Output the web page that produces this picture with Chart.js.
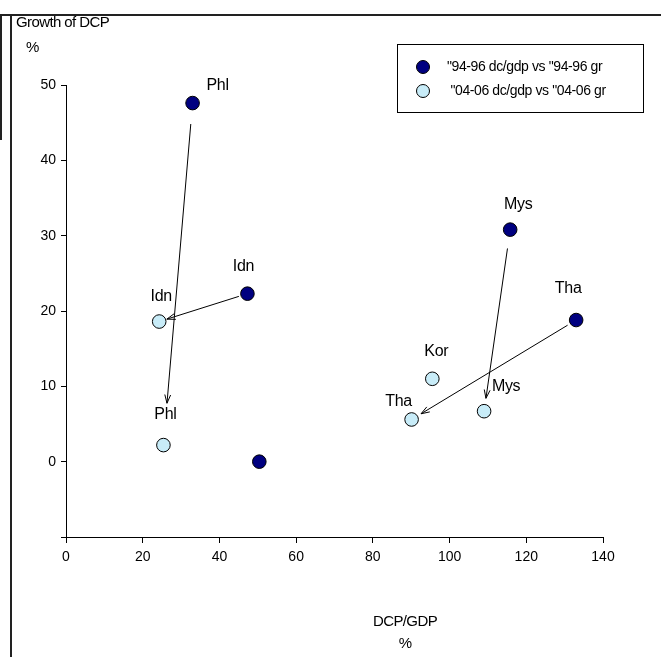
<!DOCTYPE html>
<html>
<head>
<meta charset="utf-8">
<script src="https://cdn.jsdelivr.net/npm/chart.js@4.4.1/dist/chart.umd.min.js"></script>
<style>
  html, body { margin: 0; padding: 0; background: #fff; }
  #wrap { position: relative; width: 661px; height: 657px; }
</style>
</head>
<body>
<div id="wrap"><canvas id="c" width="661" height="657"></canvas></div>
<script>
// Countries and their DCP/GDP ratio vs growth of DCP
const countries9496 = ['Phl', 'Idn', 'Mys', 'Tha', ''];
const dcpGdp9496 = [33.0, 47.3, 115.8, 133.0, 50.4];
const growth9496 = [47.6, 22.3, 30.8, 18.8, 0.0];

const countries0406 = ['Phl', 'Idn', 'Mys', 'Tha', 'Kor'];
const dcpGdp0406 = [25.4, 24.3, 109.0, 90.1, 95.5];
const growth0406 = [2.2, 18.6, 6.7, 5.6, 11.0];

const seriesNames = ['"94-96 dc/gdp vs "94-96 gr', ' "04-06 dc/gdp vs "04-06 gr'];
const xTicks = [0, 20, 40, 60, 80, 100, 120, 140];
const yTicks = [0, 10, 20, 30, 40, 50];

// Arrows showing each country's move from 94-96 to 04-06
const moves = ['Phl', 'Idn', 'Mys', 'Tha'];

const FONT = '"Liberation Sans", Arial, sans-serif';
const DARK = '#000080';
const LIGHT = '#C8ECF8';

// label placement (pixel offsets of label centre from the marker)
const labelOffsets = [
  { Phl: [25, -17], Idn: [-4, -27], Mys: [8, -25], Tha: [-8, -31] },
  { Phl: [2, -30], Idn: [2, -25], Mys: [22, -25], Tha: [-13, -18], Kor: [4, -27] }
];
// gaps (px) between arrow ends and the markers
const arrowGaps = { Phl: [21, 42], Idn: [9, 8], Mys: [19, 13], Tha: [10, 11] };

function pts(xs, ys) { return xs.map((x, i) => ({ x: x, y: ys[i] })); }

const decorations = {
  id: 'decorations',
  afterDatasetsDraw(chart) {
    const ctx = chart.ctx;
    const xs = chart.scales.x, ys = chart.scales.y;
    ctx.save();

    // point labels
    ctx.fillStyle = '#000';
    ctx.font = '16px ' + FONT;
    ctx.letterSpacing = '-0.3px';
    ctx.textAlign = 'center';
    ctx.textBaseline = 'middle';
    [[countries9496, dcpGdp9496, growth9496], [countries0406, dcpGdp0406, growth0406]].forEach((s, si) => {
      s[0].forEach((name, i) => {
        if (!name) return;
        const off = labelOffsets[si][name];
        const px = xs.getPixelForValue(s[1][i]);
        const py = ys.getPixelForValue(s[2][i]);
        ctx.fillText(name, px + off[0], py + off[1]);
      });
    });

    // arrows
    ctx.strokeStyle = '#000';
    ctx.lineWidth = 1;
    moves.forEach(name => {
      const a = countries9496.indexOf(name), b = countries0406.indexOf(name);
      const x1 = xs.getPixelForValue(dcpGdp9496[a]), y1 = ys.getPixelForValue(growth9496[a]);
      const x2 = xs.getPixelForValue(dcpGdp0406[b]), y2 = ys.getPixelForValue(growth0406[b]);
      const dx = x2 - x1, dy = y2 - y1, len = Math.hypot(dx, dy);
      const ux = dx / len, uy = dy / len;
      const g = arrowGaps[name];
      const sx = x1 + ux * g[0], sy = y1 + uy * g[0];
      const ex = x2 - ux * g[1], ey = y2 - uy * g[1];
      ctx.beginPath();
      ctx.moveTo(sx, sy);
      ctx.lineTo(ex, ey);
      const ang = Math.atan2(uy, ux), hl = 9, ha = 0.33;
      ctx.moveTo(ex - hl * Math.cos(ang - ha), ey - hl * Math.sin(ang - ha));
      ctx.lineTo(ex, ey);
      ctx.lineTo(ex - hl * Math.cos(ang + ha), ey - hl * Math.sin(ang + ha));
      ctx.stroke();
    });

    // axis titles
    ctx.font = '15px ' + FONT;
    ctx.letterSpacing = '-0.6px';
    ctx.textAlign = 'left';
    ctx.fillText('Growth of DCP', 16, 23);
    ctx.fillText('%', 26, 48);
    ctx.textAlign = 'center';
    ctx.fillText('DCP/GDP', 405, 622);
    ctx.fillText('%', 405, 644);

    // legend
    const lx = 397, ly = 44, lw = 246, lh = 68;
    ctx.lineWidth = 1;
    ctx.strokeRect(lx + 0.5, ly + 0.5, lw, lh);
    ctx.font = '14px ' + FONT;
    ctx.letterSpacing = '-0.4px';
    ctx.textAlign = 'left';
    [DARK, LIGHT].forEach((col, i) => {
      const cy = ly + 23 + i * 24;
      ctx.beginPath();
      ctx.ellipse(lx + 26, cy, 6.5, 6.5, 0, 0, Math.PI * 2);
      ctx.fillStyle = col;
      ctx.fill();
      ctx.strokeStyle = '#000';
      ctx.stroke();
      ctx.fillStyle = '#000';
      ctx.fillText(seriesNames[i], lx + 50, cy);
    });

    // page frame lines
    ctx.strokeStyle = '#222';
    ctx.lineWidth = 2;
    ctx.beginPath();
    ctx.moveTo(0, 15); ctx.lineTo(661, 15);
    ctx.moveTo(11, 15); ctx.lineTo(11, 657);
    ctx.moveTo(1, 15); ctx.lineTo(1, 140);
    ctx.stroke();
    ctx.restore();
  }
};

new Chart(document.getElementById('c'), {
  type: 'scatter',
  data: {
    datasets: [
      { label: seriesNames[0], data: pts(dcpGdp9496, growth9496), backgroundColor: DARK, borderColor: '#000', borderWidth: 1, pointRadius: 6.8, pointHoverRadius: 6.8 },
      { label: seriesNames[1], data: pts(dcpGdp0406, growth0406), backgroundColor: LIGHT, borderColor: '#000', borderWidth: 1, pointRadius: 6.8, pointHoverRadius: 6.8 }
    ]
  },
  options: {
    responsive: false,
    animation: false,
    events: [],
    layout: { padding: { left: 0, top: 85, right: 58, bottom: 80 } },
    plugins: { legend: { display: false }, tooltip: { enabled: false } },
    scales: {
      x: {
        type: 'linear', min: 0, max: 140,
        afterBuildTicks: s => { s.ticks = xTicks.map(v => ({ value: v })); },
        afterFit: s => { s.height = 40; },
        grid: { drawOnChartArea: false, drawTicks: true, tickLength: 6, color: '#000' },
        border: { display: true, color: '#000', width: 1 },
        ticks: { color: '#000', font: { family: FONT, size: 14 }, padding: 6, maxRotation: 0 }
      },
      y: {
        type: 'linear', min: -10, max: 50,
        afterBuildTicks: s => { s.ticks = [-10].concat(yTicks).map(v => ({ value: v })); },
        afterFit: s => { s.width = 66; },
        grid: { drawOnChartArea: false, drawTicks: true, tickLength: 5, color: '#000' },
        border: { display: true, color: '#000', width: 1 },
        ticks: { color: '#000', font: { family: FONT, size: 14 }, padding: 5,
                 callback: v => (yTicks.includes(v) ? String(v) : '') }
      }
    }
  },
  plugins: [decorations]
});
</script>
</body>
</html>
